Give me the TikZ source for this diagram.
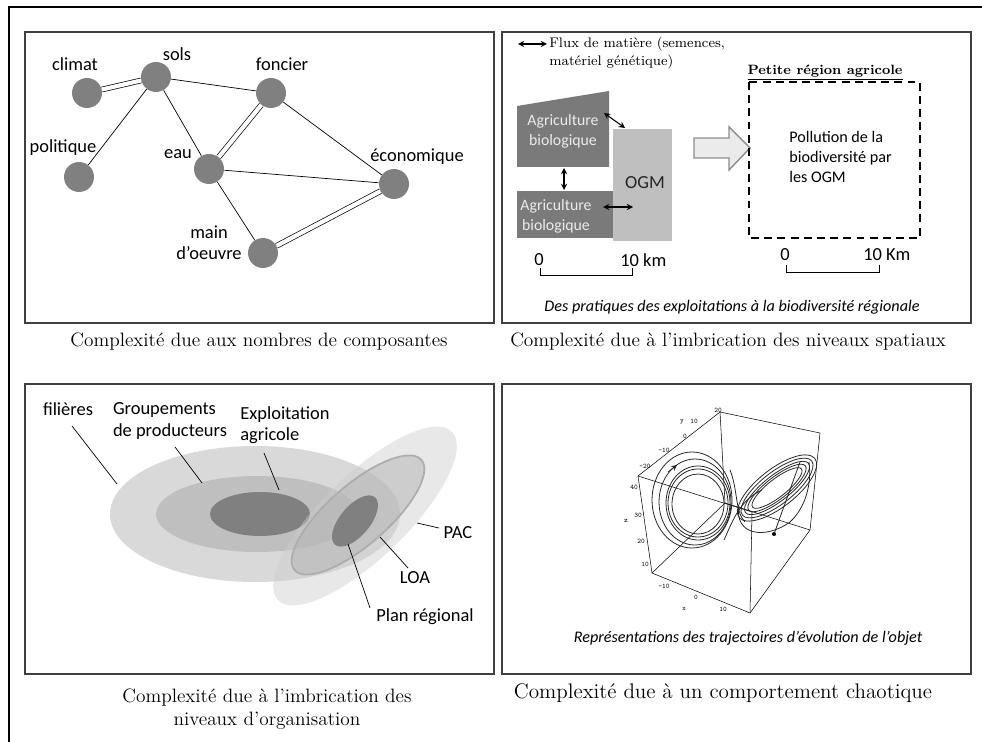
\documentclass[tikz,border=0pt]{standalone}
\usepackage{fontspec}
\newfontfamily\calib{Carlito}

\begin{document}
\begin{tikzpicture}[x=0.02cm, y=-0.02cm,
    panel/.style={draw=black!75, line width=0.6pt},
    caption/.style={font=\fontsize{11}{13}\selectfont, align=center, inner sep=0pt},
    lbl/.style={font=\calib\fontsize{10.5}{11.5}\selectfont, inner sep=0pt},
    comp/.style={circle, fill=black!50, minimum size=0.6cm, inner sep=0pt},
    link/.style={line width=0.4pt},
    dlink/.style={double, double distance=2.4pt, line width=0.4pt},
    flux/.style={stealth-stealth, line width=0.6pt},
    bloc/.style={fill=black!52},
    agtext/.style={font=\calib\fontsize{9}{11.3}\selectfont, text=white!92!black, align=center, inner sep=0pt},
    leader/.style={line width=0.4pt},
    traj/.style={line width=0.45pt, black!85},
    note/.style={font=\calib\itshape\fontsize{9.2}{10}\selectfont, inner sep=0pt},
    tick/.style={font=\ttfamily\fontsize{4}{4}\selectfont, inner sep=0pt}]

    \useasboundingbox (0,0) rectangle (982,742);

    % Frame and panels
    \draw[line width=1.2pt] (9,760) -- (9,7) -- (1000,7);
    \draw[panel] (25,32) rectangle (494,323);
    \draw[panel] (502,32) rectangle (971,323);
    \draw[panel] (25,384) rectangle (494,674);
    \draw[panel] (502,384) rectangle (971,674);

    % Components
    \foreach \name/\x/\y in {climat/87/93, sols/156/77, foncier/271/93, politique/79/177,
                             eau/209/169, eco/394/184, main/263/253}
        \node[comp] (\name) at (\x,\y) {};

    \foreach \a/\b in {sols/politique, sols/foncier, sols/eau, foncier/eco, eau/eco, eau/main}
        \draw[link] (\a) -- (\b);
    \foreach \a/\b in {climat/sols, foncier/eau, main/eco}
        \draw[dlink] (\a) -- (\b);

    \node[lbl] (climat-t) at (75,64) {climat};
    \node[lbl] (sols-t) at (177,54) {sols};
    \node[lbl] (foncier-t) at (282,64) {foncier};
    \node[lbl] (politique-t) at (63,148) {politique};
    \node[lbl] (eau-t) at (178,154) {eau};
    \node[lbl] (eco-t) at (417,157) {économique};
    \node[lbl, align=center] (main-t) at (209,243) {main\\[0.6pt]d’oeuvre};

    % Spatial levels
    \coordinate (flux-a) at (518,44);
    \coordinate (flux-b) at (547,44);
    \draw[flux] (flux-a) -- (flux-b);
    \node[font=\fontsize{7.9}{10.2}\selectfont, align=left, anchor=west, inner sep=0pt]
        (flux-t) at (549,53) {Flux de matière (semences,\\matériel génétique)};

    \fill[bloc] (517,106) -- (609,91) -- (609,167) -- (517,167) -- cycle;
    \fill[black!25] (613,129) rectangle (672,241);
    \fill[bloc] (517,191) rectangle (613,238);
    \node[agtext] (agri1) at (563,131) {Agriculture\\biologique};
    \node[agtext] (agri2) at (556,216) {Agriculture\\biologique};
    \node[lbl, text=black!85] (ogm) at (645,183) {OGM};

    \coordinate (f1a) at (604,113);
    \coordinate (f1b) at (625,128);
    \coordinate (f2a) at (564,168);
    \coordinate (f2b) at (564,190);
    \coordinate (f3a) at (603,207);
    \coordinate (f3b) at (633,207);
    \foreach \a/\b in {f1a/f1b, f2a/f2b, f3a/f3b}
        \draw[flux] (\a) -- (\b);

    \draw[fill=black!8, draw=black!45, line width=0.8pt]
        (694,138) -- (729,138) -- (729,127) -- (750,148) -- (729,170) -- (729,158) -- (694,158) -- cycle;

    \draw[line width=1.2pt, dash pattern=on 4.5pt off 3pt] (749,82) rectangle (920,238);
    \node[font=\bfseries\fontsize{7.7}{9}\selectfont, inner sep=0pt] (region-t) at (825,73)
        {\underline{Petite région agricole}};
    \node[lbl, font=\calib\fontsize{9.2}{11.3}\selectfont, align=left, anchor=west] (pollu) at (789,157)
        {Pollution de la\\biodiversité par\\les OGM};

    % Scale bars
    \draw[line width=0.4pt] (540,268) -- (540,275) -- (632,275) -- (632,268);
    \node[lbl] (zero1) at (539,260) {0};
    \node[lbl, anchor=west] (km1) at (620,260) {10 km};
    \draw[line width=0.4pt] (786,265) -- (786,272) -- (879,272) -- (879,265);
    \node[lbl] (zero2) at (785,255) {0};
    \node[lbl, anchor=west] (km2) at (863,255) {10 Km};

    \node[note] (spat-t) at (732,307) {Des pratiques des exploitations à la biodiversité régionale};

    % Organisation levels
    \fill[black!15] (255,514) ellipse [x radius=145, y radius=68];
    \fill[black!25] (257,514) ellipse [x radius=101, y radius=38];
    \fill[black!50] (260,514) ellipse [x radius=50, y radius=22];
    \fill[black!20, opacity=0.45, shift={(365,516)}, rotate=44] (0,0) ellipse [x radius=121, y radius=42];
    \filldraw[fill=black!30, fill opacity=0.5, draw=black!32, line width=1pt, shift={(358,515)}, rotate=41]
        (0,0) ellipse [x radius=84, y radius=30];
    \fill[black!50, shift={(355,521)}, rotate=50] (0,0) ellipse [x radius=31, y radius=15];

    \node[lbl] (fil-t) at (68,409) {filières};
    \node[lbl, align=left] (grp-t) at (170,421) {Groupements\\[0.6pt]de producteurs};
    \node[lbl, align=left] (expl-t) at (285,425) {Exploitation\\[0.6pt]agricole};
    \node[lbl] (pac-t) at (458,533) {PAC};
    \node[lbl] (loa-t) at (415,578) {LOA};
    \node[lbl] (plan-t) at (425,617) {Plan régional};

    \foreach \n/\xa/\ya/\xb/\yb in {fil/72/426/117/484, grp/175/447/202/483, expl/264/453/279/490,
                                   pac/417/523/439/528, loa/380/537/408/568, plan/348/544/370/608} {
        \coordinate (\n-a) at (\xa,\ya);
        \coordinate (\n-b) at (\xb,\yb);
        \draw[leader] (\n-a) -- (\n-b);
    }

    % Chaotic behaviour
    \foreach \n/\x/\y in {v1/638/476, v2/720/412, v3/820/433, v4/652/573, v5/750/613, v6/810/530,
                          v7/725/503, v8/752/512}
        \coordinate (\n) at (\x,\y);
    \draw[line width=0.3pt] (v1) -- (v2) -- (v3) -- (v6) -- (v5) -- (v4) -- cycle;
    \foreach \a/\b in {v2/v7, v4/v7, v7/v6, v1/v8, v5/v8}
        \draw[line width=0.3pt] (\a) -- (\b);

    \foreach \t/\x/\y in {-20/645/466, -10/664/450, 0/685/436, 10/694/421, 20/718/410,
                          40/634/487, 30/638/515, 20/641/541, 10/645/564,
                          -10/664/586, 0/696/597, 10/723/609}
        \node[tick] at (\x,\y) {\t};
    \node[tick] (ylab) at (682,422) {y};
    \node[tick] (zlab) at (626,521) {z};
    \node[tick] (xlab) at (684,609) {x};

    \foreach \rx/\ry/\cx/\cy in {40/48/692/500, 36/43/695/502, 32/37/698/503, 30/34/698/503, 26/30/698/504}
        \draw[traj] (\cx,\cy) ellipse [x radius=\rx, y radius=\ry];
    \foreach \rx/\ry in {48/19, 44/16, 40/13, 36/11, 31/9}
        \draw[traj, shift={(777,488)}, rotate=38] (0,0) ellipse [x radius=\rx, y radius=\ry];
    \draw[traj] (739,506) .. controls (734,535) and (765,540) .. (790,522) .. controls (805,508) and (812,485) .. (809,462);
    \draw[traj] (724,540) .. controls (733,520) and (740,500) .. (762,490);
    \draw[traj] (730,470) .. controls (738,490) and (735,512) .. (745,522);
    \coordinate (start) at (774,534);
    \coordinate (entry) at (800,462);
    \fill (start) circle [radius=2];
    \draw[traj] (start) -- (entry);
    \coordinate (arr-a) at (668,472);
    \coordinate (arr-b) at (677,465);
    \draw[traj, -stealth] (arr-a) -- (arr-b);

    \node[note] (chaos-t) at (748,638) {Représentations des trajectoires d’évolution de l’objet};

    % Captions
    \node[caption] (cap1) at (259,342) {Complexité due aux nombres de composantes};
    \node[caption] (cap2) at (728,342) {Complexité due à l’imbrication des niveaux spatiaux};
    \node[caption] (cap3) at (267,709) {Complexité due à l’imbrication des\\niveaux d’organisation};
    \node[caption, font=\fontsize{12}{13}\selectfont] (cap4) at (723,693) {Complexité due à un comportement chaotique};

\end{tikzpicture}
\end{document}
